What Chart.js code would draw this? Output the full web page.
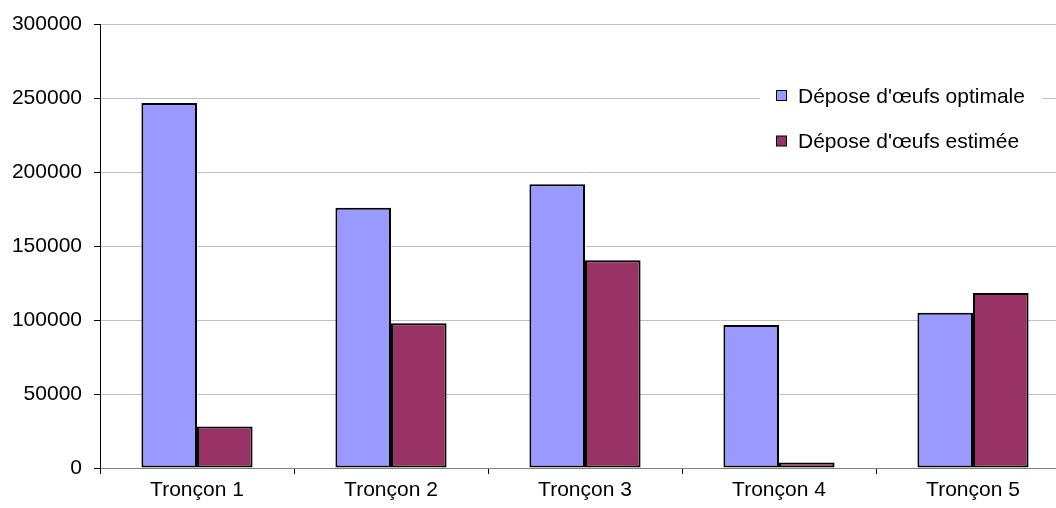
<!DOCTYPE html>
<html>
<head>
<meta charset="utf-8">
<script src="https://cdn.jsdelivr.net/npm/chart.js@4/dist/chart.umd.min.js"></script>
<style>
  html, body { margin: 0; padding: 0; background: #fff; overflow: hidden; }
  #wrap { width: 1056px; height: 508px; overflow: hidden; position: relative; }
  #box { width: 1070px; height: 508px; position: absolute; left: 0; top: 0; }
</style>
</head>
<body>
<div id="wrap"><div id="box"><canvas id="c"></canvas></div></div>
<script>
const categories = ['Tronçon 1', 'Tronçon 2', 'Tronçon 3', 'Tronçon 4', 'Tronçon 5'];
const optimale = [247000, 176000, 192000, 96700, 105000];
const estimee = [28000, 98000, 140500, 3700, 118400];
const seriesNames = ["Dépose d'œufs optimale", "Dépose d'œufs estimée"];
const seriesColors = ['#9999FF', '#993366'];

const FONT = '"Liberation Sans", Arial, sans-serif';

// Legend drawn inside the plot area, on a white patch over the gridlines
const insideLegend = {
  id: 'insideLegend',
  afterDraw(chart) {
    const ctx = chart.ctx;
    ctx.save();
    ctx.fillStyle = '#ffffff';
    ctx.fillRect(760, 76, 282, 86);
    ctx.font = '21px ' + FONT;
    ctx.textBaseline = 'middle';
    ctx.textAlign = 'left';
    chart.data.datasets.forEach((ds, i) => {
      const y = 96 + i * 45.5;
      ctx.fillStyle = ds.backgroundColor;
      ctx.fillRect(776.5, y - 5.5, 10, 10);
      ctx.strokeStyle = '#000';
      ctx.lineWidth = 1;
      ctx.strokeRect(776.5, y - 5.5, 10, 10);
      ctx.fillStyle = '#000';
      ctx.fillText(ds.label, 798, y + 1);
    });
    ctx.restore();
  }
};

new Chart(document.getElementById('c'), {
  type: 'bar',
  data: {
    labels: categories,
    datasets: [
      { label: seriesNames[0], data: optimale, backgroundColor: seriesColors[0],
        borderColor: '#000', borderWidth: 2, borderSkipped: false,
        categoryPercentage: 0.573, barPercentage: 1 },
      { label: seriesNames[1], data: estimee, backgroundColor: seriesColors[1],
        borderColor: '#000', borderWidth: 2, borderSkipped: false,
        categoryPercentage: 0.573, barPercentage: 1 }
    ]
  },
  options: {
    responsive: true,
    maintainAspectRatio: false,
    animation: false,
    layout: { padding: { top: 24, right: 0, bottom: 0, left: 0 } },
    plugins: {
      legend: { display: false },
      tooltip: { enabled: false }
    },
    scales: {
      x: {
        afterFit(scale) { scale.height = 40; },
        border: { color: '#808080', width: 1 },
        grid: { drawOnChartArea: false, tickLength: 6, tickColor: '#000', offset: true },
        ticks: { color: '#000', font: { family: FONT, size: 21 }, padding: 4, maxRotation: 0 }
      },
      y: {
        min: 0, max: 300000,
        afterFit(scale) { scale.width = 100; },
        border: { color: '#000', width: 1 },
        grid: { color: '#c0c0c0', tickLength: 6, tickColor: '#000' },
        ticks: {
          stepSize: 50000, color: '#000', padding: 12,
          font: { family: FONT, size: 21 },
          callback: v => String(v)
        }
      }
    }
  },
  plugins: [insideLegend]
});
</script>
</body>
</html>
